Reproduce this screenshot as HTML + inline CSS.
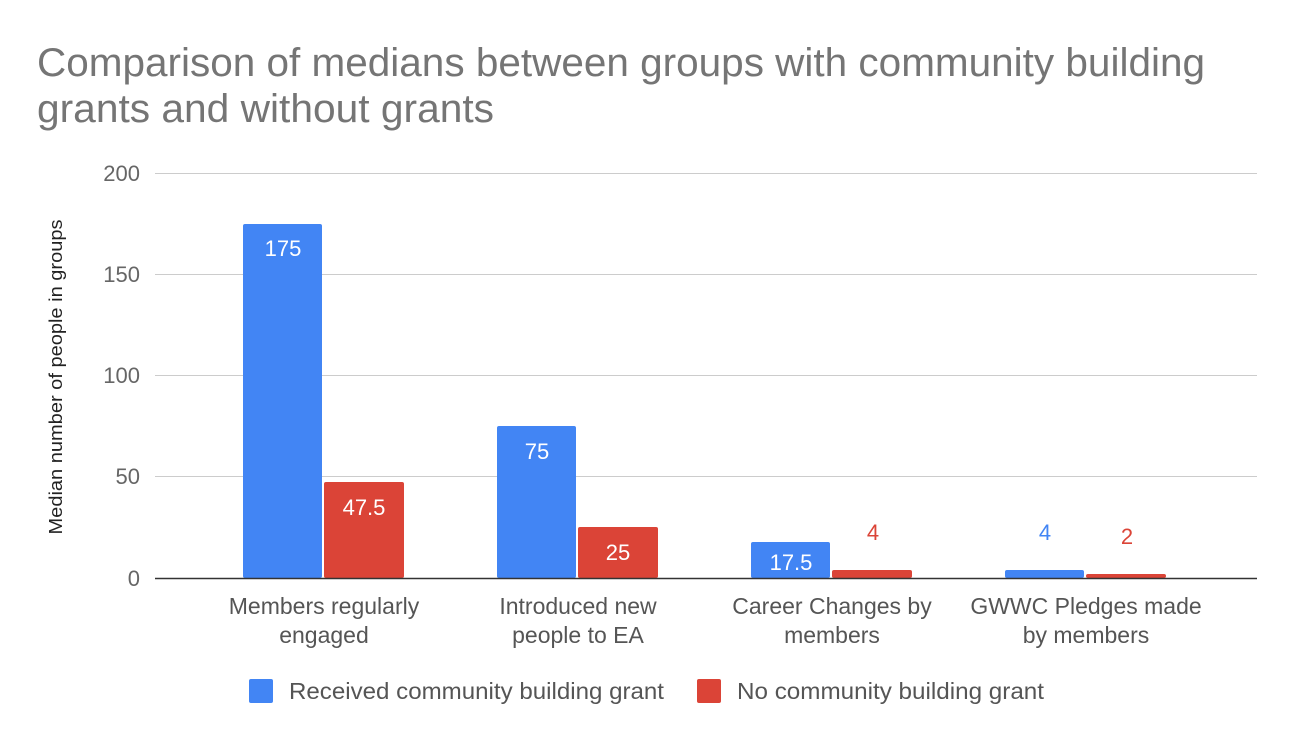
<!DOCTYPE html>
<html><head><meta charset="utf-8"><style>
body{margin:0;background:#fff;}
svg text{font-family:"Liberation Sans",sans-serif;}
</style></head><body>
<svg width="1294" height="742" xmlns="http://www.w3.org/2000/svg">
<rect width="1294" height="742" fill="#fff"/>
<text x="37" y="76" font-size="40" fill="#757575" textLength="1168" lengthAdjust="spacingAndGlyphs">Comparison of medians between groups with community building</text>
<text x="37" y="122" font-size="40" fill="#757575" textLength="457" lengthAdjust="spacingAndGlyphs">grants and without grants</text>
<g stroke="#ccc" stroke-width="1">
<line x1="155" y1="173.5" x2="1257" y2="173.5"/>
<line x1="155" y1="274.5" x2="1257" y2="274.5"/>
<line x1="155" y1="375.5" x2="1257" y2="375.5"/>
<line x1="155" y1="476.5" x2="1257" y2="476.5"/>
</g>
<g font-size="22" fill="#666" text-anchor="end">
<text x="140" y="181">200</text>
<text x="140" y="282">150</text>
<text x="140" y="383">100</text>
<text x="140" y="484">50</text>
<text x="140" y="586">0</text>
</g>
<text transform="translate(62,377) rotate(-90)" font-size="18" fill="#222" text-anchor="middle" textLength="315" lengthAdjust="spacingAndGlyphs">Median number of people in groups</text>
<g fill="#4285f4">
<rect x="243" y="224" width="79" height="354" rx="2"/>
<rect x="497" y="426" width="79" height="152" rx="2"/>
<rect x="751" y="542" width="79" height="36" rx="2"/>
<rect x="1005" y="570" width="79" height="8" rx="2"/>
</g>
<g fill="#db4437">
<rect x="324" y="482" width="80" height="96" rx="2"/>
<rect x="578" y="527" width="80" height="51" rx="2"/>
<rect x="832" y="570" width="80" height="8" rx="2"/>
<rect x="1086" y="574" width="80" height="4" rx="2"/>
</g>
<line x1="155" y1="578.5" x2="1257" y2="578.5" stroke="#333" stroke-width="1.5"/>
<g font-size="22" text-anchor="middle">
<text x="283" y="256" fill="#fff">175</text>
<text x="364" y="515" fill="#fff">47.5</text>
<text x="537" y="459" fill="#fff">75</text>
<text x="618" y="560" fill="#fff">25</text>
<text x="791" y="570" fill="#fff">17.5</text>
<text x="873" y="540" fill="#db4437">4</text>
<text x="1045" y="540" fill="#4285f4">4</text>
<text x="1127" y="544" fill="#db4437">2</text>
</g>
<g font-size="23" fill="#555" text-anchor="middle">
<text x="324" y="614">Members regularly</text><text x="324" y="643">engaged</text>
<text x="578" y="614">Introduced new</text><text x="578" y="643">people to EA</text>
<text x="832" y="614">Career Changes by</text><text x="832" y="643">members</text>
<text x="1086" y="614">GWWC Pledges made</text><text x="1086" y="643">by members</text>
</g>
<rect x="249" y="679" width="24" height="24" rx="2" fill="#4285f4"/>
<text x="289" y="699" font-size="23" fill="#555" textLength="375" lengthAdjust="spacingAndGlyphs">Received community building grant</text>
<rect x="697" y="679" width="24" height="24" rx="2" fill="#db4437"/>
<text x="737" y="699" font-size="23" fill="#555" textLength="307" lengthAdjust="spacingAndGlyphs">No community building grant</text>
</svg>
</body></html>
